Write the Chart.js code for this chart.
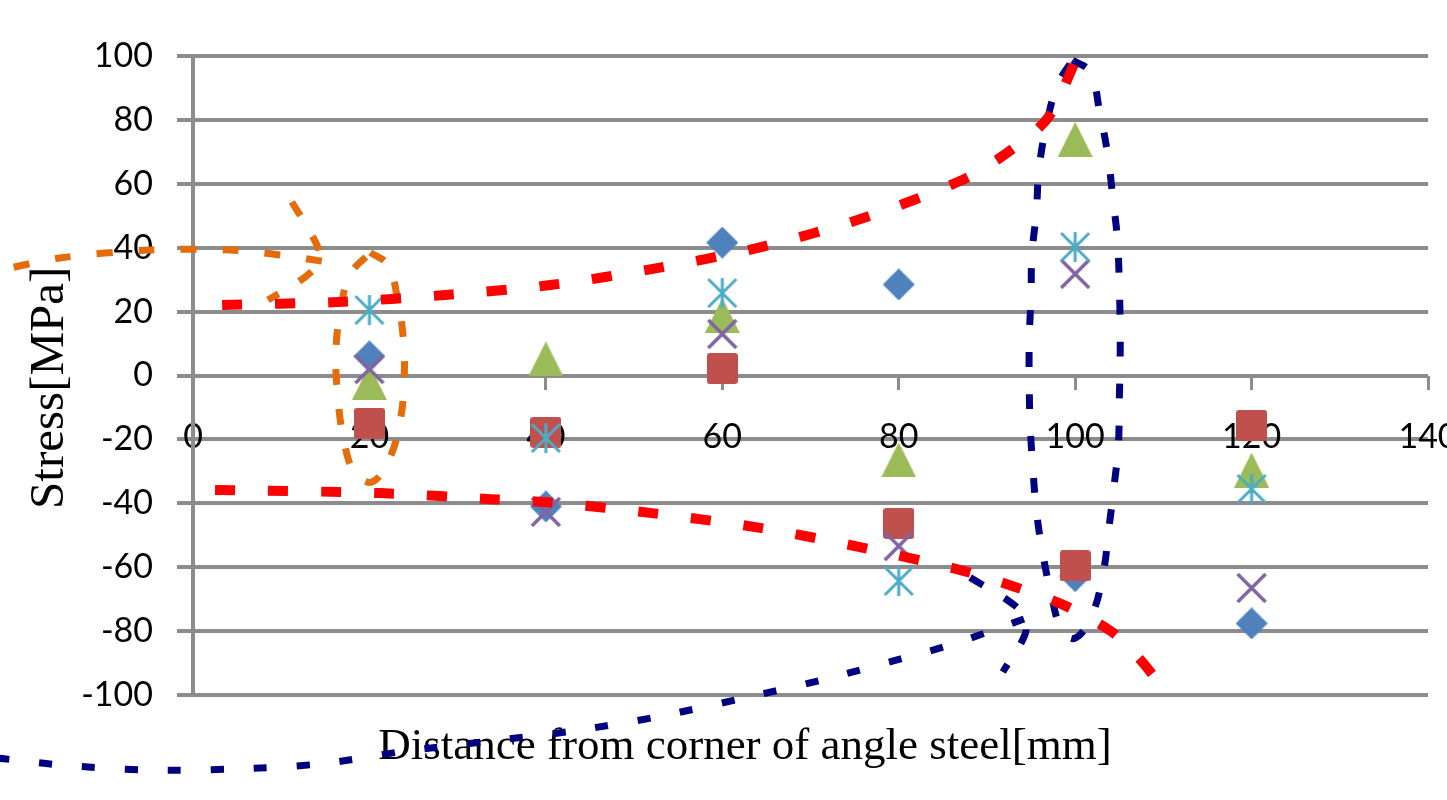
<!DOCTYPE html>
<html>
<head>
<meta charset="utf-8">
<script src="https://cdn.jsdelivr.net/npm/chart.js@4/dist/chart.umd.min.js"></script>
<style>
  html, body { margin: 0; padding: 0; background: #fff; }
  #wrap { width: 1447px; height: 800px; }
</style>
</head>
<body>
<div id="wrap"><canvas id="stressChart" width="1447" height="800"></canvas></div>
<script>
// --- data ---
const distances = [20, 40, 60, 80, 100, 120];
const series1 = [6, -41, 41.6, 28.5, -62.8, -77.6];      // blue diamond
const series2 = [-15, -17.8, 2.2, -46.3, -59.6, -15.6];  // red square
const series3 = [-2.2, 5.2, 18.8, -26.4, 73.9, -29.6];   // green triangle
const series4 = [2, -42.7, 13, -53.4, 31.8, -66.5];      // purple x
const series5 = [20.5, -19.6, 25.8, -64.3, 40.2, -35.5]; // cyan asterisk

const xTicks = [0, 20, 40, 60, 80, 100, 120, 140];
const yTicks = [-100, -80, -60, -40, -20, 0, 20, 40, 60, 80, 100];

// hand drawn dashed outlines, in data units [distance, stress]
// (paths that leave the plot on the left are listed right to left,
//  otherwise chart.js trims the points outside the x range)
const redUpper = [[3.3,22.1],[16.4,23.0],[28.6,25.2],[40.5,28.3],[52.6,33.6],[64.4,40.2],[76,49.3],[87.2,61.2],[92.4,69.9],[96.9,80.6],[100,98.1]];
const redLower = [[2.5,-35.8],[21.2,-36.8],[33.7,-38.7],[39.9,-39.6],[51.8,-43.0],[64.3,-47.7],[75.6,-53.7],[87,-60.9],[93.2,-66.2],[98.9,-72.1],[104.2,-80.3],[107.4,-89.0],[109.1,-94.7]];
const orangeLine = [[14.6,35.8],[9.9,37.7],[4.2,39.3],[-4.9,39.3],[-15.1,36.8],[-20.8,33.6]];
const orangeHook = [[11.2,54.3],[12.8,47.1],[14.2,39.9],[14.4,35.8],[12.7,30.8],[8.5,23.6]];
const orangeOval = [[20.1,38.5],[22.1,34.6],[23.2,23.6],[23.9,9.5],[23.9,-3.0],[23.5,-14.0],[22.3,-25.8],[20.3,-33.3],[18.3,-30.2],[17.1,-20.2],[16.4,-6.1],[16.2,7.4],[16.7,19.9],[17.8,31.5],[20.1,38.5]];
const navyLoop = [[99.7,98.7],[101.7,95.0],[102.8,82.2],[103.7,69.0],[104.3,54.9],[104.8,42.4],[105,29.0],[105.1,15.8],[105.1,4.9],[105,-8.3],[104.9,-21.8],[104.4,-34.9],[103.8,-48.4],[103.2,-61.5],[101.9,-75.0],[100,-82.2],[98.5,-79.7],[97.3,-68.7],[96.3,-55.2],[95.6,-42.1],[95.2,-28.6],[94.9,-15.5],[94.8,-3.0],[94.8,11.1],[95,25.2],[95.1,37.7],[95.6,51.2],[95.9,64.3],[96.7,77.8],[98,90.9],[99.7,98.7]];
const navyTail = [[94.2,-76.2],[90.1,-80.3],[85.4,-84.7],[80.6,-88.4],[71.3,-95.3],[61.9,-101.3],[52.5,-106.9],[43,-111.3],[33.1,-114.6],[23.5,-117.8],[14.3,-121.6],[4.3,-123.2],[-5.1,-123.5],[-15.1,-121.9],[-20.3,-120.3],[-22,-119.8]];
const navyHook = [[88.1,-63.2],[93.2,-72.1],[94.2,-76.5],[94.3,-81.2],[91.8,-92.8]];

const gridGray = '#8c8c8c';

// excel style markers
function makeMarker(shape, color) {
    const c = document.createElement('canvas');
    const s = shape === 'triangle' ? 35 : (shape === 'square' ? 31 : 32);
    c.width = s; c.height = s;
    const g = c.getContext('2d');
    g.fillStyle = color;
    g.strokeStyle = color;
    g.lineCap = 'butt';
    const h = s / 2;
    if (shape === 'diamond') {
        g.beginPath();
        g.moveTo(h, 0); g.lineTo(s, h); g.lineTo(h, s); g.lineTo(0, h);
        g.closePath(); g.fill();
    } else if (shape === 'square') {
        g.beginPath();
        g.roundRect(0, 0, s, s, 3);
        g.fill();
    } else if (shape === 'triangle') {
        g.beginPath();
        g.moveTo(h, 0); g.lineTo(s, s); g.lineTo(0, s);
        g.closePath(); g.fill();
    } else if (shape === 'x') {
        g.lineWidth = 3.5;
        g.beginPath();
        g.moveTo(2, 2); g.lineTo(s - 2, s - 2);
        g.moveTo(s - 2, 2); g.lineTo(2, s - 2);
        g.stroke();
    } else if (shape === 'asterisk') {
        g.lineWidth = 3;
        g.beginPath();
        g.moveTo(h, 1); g.lineTo(h, s - 1);
        g.moveTo(2, 2); g.lineTo(s - 2, s - 2);
        g.moveTo(s - 2, 2); g.lineTo(2, s - 2);
        g.stroke();
    }
    return c;
}

function toPoints(ys) {
    return distances.map((d, i) => ({ x: d, y: ys[i] }));
}

function toPath(arr) {
    return arr.map(p => ({ x: p[0], y: p[1] }));
}

function markerSet(label, ys, shape, color) {
    return {
        label: label,
        data: toPoints(ys),
        pointStyle: makeMarker(shape, color),
        pointRadius: 16,
        pointHoverRadius: 16,
        backgroundColor: color,
        borderColor: color,
        showLine: false,
        order: 2
    };
}

function dashSet(path, color, width, dash, tension) {
    return {
        data: toPath(path),
        showLine: true,
        borderColor: color,
        borderWidth: width,
        borderDash: dash,
        borderCapStyle: 'butt',
        pointRadius: 0,
        pointHoverRadius: 0,
        tension: tension,
        fill: false,
        clip: false,
        order: 0
    };
}

const datasets = [
    markerSet('Series1', series1, 'diamond', '#4F81BD'),
    markerSet('Series2', series2, 'square', '#C0504D'),
    markerSet('Series3', series3, 'triangle', '#9BBB59'),
    markerSet('Series4', series4, 'x', '#8064A2'),
    markerSet('Series5', series5, 'asterisk', '#4BACC6'),
    dashSet(redUpper, '#FF0000', 10, [20, 33], 0.3),
    dashSet(redLower, '#FF0000', 10, [20, 33], 0.3),
    dashSet(orangeLine, '#E46C0A', 7, [16, 26], 0.3),
    dashSet(orangeHook, '#E46C0A', 7, [16, 24], 0.3),
    dashSet(orangeOval, '#E46C0A', 7, [16, 24], 0.4),
    dashSet(navyLoop, '#000080', 7, [15, 27], 0.4),
    dashSet(navyTail, '#000080', 7, [13, 30], 0.3),
    dashSet(navyHook, '#000080', 7, [15, 25], 0.4)
];
// markers from later series sit on top, like excel
datasets.slice(0, 5).forEach((d, i) => { d.order = 10 - i; });

const tickFont = { family: 'Lato', size: 34 };

// the axis title in the figure sits a little right of the page centre
const titleShift = {
    id: 'titleShift',
    afterLayout(chart) {
        const t = chart.titleBlock;
        if (t) { t.left += 31; t.right += 31; }
    }
};

new Chart(document.getElementById('stressChart'), {
    type: 'scatter',
    data: { datasets: datasets },
    plugins: [titleShift],
    options: {
        responsive: false,
        animation: false,
        devicePixelRatio: 1,
        layout: { padding: { top: 56, right: 19, bottom: 26, left: 0 } },
        plugins: {
            legend: { display: false },
            tooltip: { enabled: false },
            title: {
                display: true,
                position: 'bottom',
                text: 'Distance from corner of angle steel[mm]',
                color: '#000',
                font: { family: 'Liberation Serif', size: 45, weight: 'normal' },
                padding: { top: 25, bottom: 0 }
            }
        },
        scales: {
            x: {
                type: 'linear',
                position: { y: 0 },
                min: 0,
                max: 140,
                z: 1,
                afterBuildTicks: s => { s.ticks = xTicks.map(v => ({ value: v })); },
                afterFit: s => { s.paddingLeft = 0; s.paddingRight = 0; },
                ticks: { font: tickFont, color: '#000', padding: 27, maxRotation: 0, autoSkip: false },
                grid: { drawOnChartArea: false, drawTicks: true, tickLength: 14, color: gridGray, lineWidth: 3 },
                border: { display: false }
            },
            y: {
                type: 'linear',
                position: 'left',
                min: -100,
                max: 100,
                afterBuildTicks: s => { s.ticks = yTicks.map(v => ({ value: v })); },
                afterFit: s => { s.width = 193; },
                ticks: { font: tickFont, color: '#000', padding: 24 },
                grid: { color: gridGray, lineWidth: 4, tickLength: 16 },
                border: { color: gridGray, width: 4 },
                title: {
                    display: true,
                    text: 'Stress[MPa]\u00a0\u00a0',
                    color: '#000',
                    font: { family: 'Liberation Serif', size: 49, weight: 'normal' },
                    padding: { top: 21, bottom: 0 }
                }
            }
        }
    }
});
</script>
</body>
</html>
